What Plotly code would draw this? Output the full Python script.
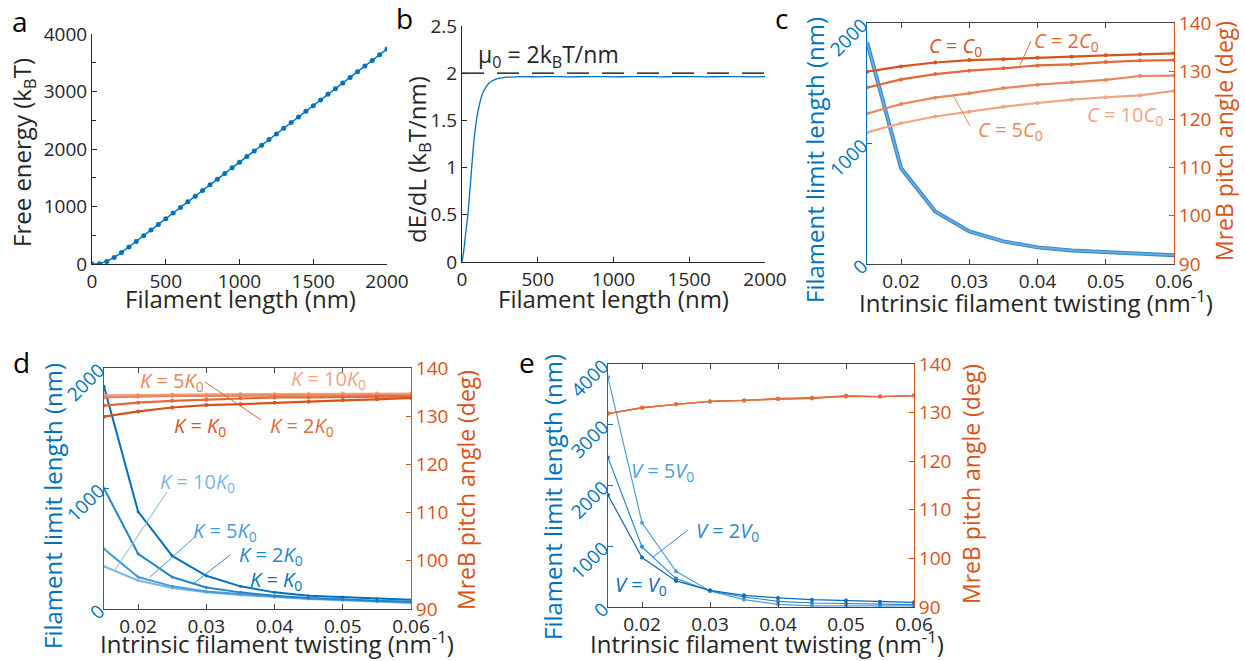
import plotly.graph_objects as go

W, H = 1245, 661
FONT = "Open Sans"
DARK = "#262626"
BLUE = "#0072BD"
ORANGE = "#D95319"

# ---------------- data ----------------
# panel a
length_a = [0, 50, 100, 150, 200, 250, 300, 350, 400, 450, 500, 550, 600, 650, 700, 750, 800,
            850, 900, 950, 1000, 1050, 1100, 1150, 1200, 1250, 1300, 1350, 1400, 1450, 1500,
            1550, 1600, 1650, 1700, 1750, 1800, 1850, 1900, 1950, 2000]
free_energy = [0, 5, 45, 115, 200, 295, 393, 492, 590, 688, 787, 885, 984, 1082, 1180, 1279,
               1377, 1475, 1574, 1672, 1770, 1869, 1967, 2065, 2164, 2262, 2360, 2459, 2557,
               2655, 2754, 2852, 2950, 3049, 3147, 3245, 3344, 3442, 3540, 3639, 3737]

# panel b
length_b = [0, 10, 20, 30, 40, 50, 60, 70, 80, 90, 100, 110, 120, 130, 140, 150, 160, 170, 180,
            190, 200, 220, 240, 260, 280, 300, 350, 400, 500, 600, 700, 800, 900, 1000, 1100,
            1200, 1300, 1400, 1500, 1600, 1700, 1800, 1900, 2000]
dEdL = [0, 0.1, 0.24, 0.38, 0.52, 0.72, 0.92, 1.12, 1.3, 1.44, 1.55, 1.63, 1.7, 1.76, 1.8,
        1.83, 1.86, 1.88, 1.9, 1.91, 1.92, 1.935, 1.945, 1.95, 1.955, 1.958, 1.962, 1.963,
        1.962, 1.964, 1.962, 1.963, 1.964, 1.962, 1.963, 1.964, 1.962, 1.963, 1.964, 1.962,
        1.963, 1.964, 1.962, 1.963]
mu0 = 2.0
mu0_x = [0, 2000]

# twisting axis for c, d, e
twist = [0.015, 0.02, 0.025, 0.03, 0.035, 0.04, 0.045, 0.05, 0.055, 0.06]
twist_ticks = [0.02, 0.03, 0.04, 0.05, 0.06]

# panel c
limit_c = [1843, 794, 436, 270, 188, 138, 113, 99, 86, 72]
angle_c = [
    [129.9, 131.0, 131.8, 132.3, 132.5, 132.8, 133.0, 133.3, 133.5, 133.7],
    [126.6, 128.3, 129.4, 130.1, 130.6, 131.2, 131.4, 131.9, 132.2, 132.3],
    [121.2, 123.2, 124.5, 125.4, 126.5, 127.2, 127.7, 128.2, 129.0, 129.1],
    [117.3, 119.2, 120.6, 121.6, 122.6, 123.4, 124.1, 124.6, 125.0, 125.9],
]

# panel d
limit_d = [
    [1848, 808, 441, 276, 188, 138, 110, 99, 83, 77],
    [1001, 458, 265, 179, 138, 110, 91, 77, 69, 61],
    [499, 265, 188, 146, 124, 105, 88, 77, 63, 55],
    [353, 237, 174, 138, 116, 97, 83, 72, 61, 50],
]
angle_d = [
    [129.9, 131.0, 131.8, 132.3, 132.5, 132.8, 133.0, 133.3, 133.5, 133.8],
    [132.2, 132.8, 133.2, 133.4, 133.7, 133.9, 133.9, 134.0, 134.1, 134.1],
    [133.9, 134.1, 134.2, 134.2, 134.3, 134.3, 134.3, 134.4, 134.4, 134.4],
    [134.3, 134.4, 134.5, 134.5, 134.6, 134.6, 134.6, 134.7, 134.7, 134.7],
]

# panel e
limit_e = [
    [1843, 814, 429, 275, 193, 149, 121, 105, 88, 77],
    [2459, 990, 468, 264, 165, 94, 66, 55, 44, 39],
    [3780, 1387, 589, 264, 121, 44, 17, 17, 17, 17],
]
angle_e = [
    [129.8, 131.0, 131.7, 132.3, 132.5, 132.8, 133.0, 133.5, 133.3, 133.5],
    [129.8, 131.0, 131.7, 132.3, 132.5, 132.9, 133.1, 133.3, 133.3, 133.5],
    [129.8, 131.0, 131.7, 132.3, 132.5, 132.8, 132.9, 133.4, 133.3, 133.5],
]

blues = ["#0072BD", "#2485CB", "#4A9BD8", "#7DB6E2"]
oranges = ["#D95319", "#E2693A", "#EA865C", "#F0A483"]
e_blues = ["#0B6DB8", "#2E86CB", "#4DA0DB"]
e_orange = "#E0713F"


def P(x, y):
    return x / W, 1 - y / H


def dom(x0, x1, y0, y1):
    return [x0 / W, x1 / W], [1 - y1 / H, 1 - y0 / H]


fig = go.Figure()

# ---- traces ----
fig.add_trace(go.Scatter(x=length_a, y=free_energy, mode="lines+markers",
                         line=dict(color=BLUE, width=1.5), marker=dict(size=5, color=BLUE),
                         xaxis="x", yaxis="y"))

fig.add_trace(go.Scatter(x=mu0_x, y=[mu0, mu0], mode="lines",
                         line=dict(color="black", width=1.2, dash="22px,13px"),
                         xaxis="x2", yaxis="y2"))
fig.add_trace(go.Scatter(x=length_b, y=dEdL, mode="lines", line=dict(color=BLUE, width=1.3),
                         line_shape="spline", xaxis="x2", yaxis="y2"))

# c
for i in reversed(range(4)):
    fig.add_trace(go.Scatter(x=twist, y=angle_c[i], mode="lines+markers",
                             line=dict(color=oranges[i], width=2.2),
                             marker=dict(size=4, color=oranges[i]),
                             xaxis="x3", yaxis="y4"))
fig.add_trace(go.Scatter(x=twist, y=limit_c, mode="lines", line=dict(color="#3A8BCB", width=4),
                         xaxis="x3", yaxis="y3"))
fig.add_trace(go.Scatter(x=twist, y=limit_c, mode="lines", line=dict(color="#6CADE0", width=1.6),
                         xaxis="x3", yaxis="y3"))

# d
for i in reversed(range(4)):
    fig.add_trace(go.Scatter(x=twist, y=angle_d[i], mode="lines+markers",
                             line=dict(color=oranges[i], width=2.2),
                             marker=dict(size=4, color=oranges[i]),
                             xaxis="x4", yaxis="y6"))
for i in reversed(range(4)):
    fig.add_trace(go.Scatter(x=twist, y=limit_d[i], mode="lines+markers",
                             line=dict(color=blues[i], width=2),
                             marker=dict(size=3, color=blues[i]),
                             xaxis="x4", yaxis="y5"))

# e
for i in range(3):
    fig.add_trace(go.Scatter(x=twist, y=angle_e[i], mode="lines+markers",
                             line=dict(color=e_orange, width=1.3),
                             marker=dict(size=4, color=e_orange),
                             xaxis="x5", yaxis="y8"))
for i in reversed(range(3)):
    fig.add_trace(go.Scatter(x=twist, y=limit_e[i], mode="lines+markers",
                             line=dict(color=e_blues[i], width=1.2),
                             marker=dict(size=4, color=e_blues[i]),
                             xaxis="x5", yaxis="y7"))


# ---- axes ----
def base_axis(color=DARK, **kw):
    d = dict(showline=True, linecolor=color, linewidth=1, ticks="inside", ticklen=5,
             tickcolor=color, showgrid=False, zeroline=False, automargin=False,
             tickfont=dict(family=FONT, size=19, color=color), fixedrange=True)
    d.update(kw)
    return d


layout = dict(width=W, height=H, margin=dict(l=0, r=0, t=0, b=0, pad=0),
              paper_bgcolor="white", plot_bgcolor="white", showlegend=False,
              font=dict(family=FONT, color=DARK), hovermode=False)

xa, ya = dom(92, 387, 34, 264)
layout["xaxis"] = base_axis(domain=xa, anchor="y", range=[0, 2000], tickvals=[0, 500, 1000, 1500, 2000])
layout["yaxis"] = base_axis(domain=ya, anchor="x", range=[0, 4000], tickvals=[0, 1000, 2000, 3000, 4000],
                            minor=dict(tickvals=[500, 1500, 2500, 3500], ticks="inside", ticklen=4, tickcolor=DARK))

xb, yb = dom(462, 765, 26, 262)
layout["xaxis2"] = base_axis(domain=xb, anchor="y2", range=[0, 2000], tickvals=[0, 500, 1000, 1500, 2000])
layout["yaxis2"] = base_axis(domain=yb, anchor="x2", range=[0, 2.5], tickvals=[0, 0.5, 1, 1.5, 2, 2.5],
                             ticktext=["0", "0.5", "1", "1.5", "2", "2.5"])


def twin(xn, yl, yr, xd, yd, left_range, left_ticks):
    layout["xaxis%s" % xn] = base_axis(domain=xd, anchor="y%s" % yl, range=[0.015, 0.06],
                                       tickvals=twist_ticks, mirror="ticks", linecolor="#444444",
                                       tickcolor="#444444")
    layout["yaxis%s" % yl] = base_axis(BLUE, domain=yd, anchor="x%s" % xn, range=left_range,
                                       tickvals=left_ticks, tickangle=-45)
    layout["yaxis%s" % yr] = base_axis(ORANGE, domain=yd, anchor="x%s" % xn, overlaying="y%s" % yl,
                                       side="right", range=[90, 140],
                                       tickvals=[90, 100, 110, 120, 130, 140])


twin(3, 3, 4, *dom(867, 1174, 23, 264), [0, 2000], [0, 1000, 2000])
twin(4, 5, 6, *dom(104, 411, 368, 609), [0, 2000], [0, 1000, 2000])
twin(5, 7, 8, *dom(608, 914, 364, 607), [0, 4000], [0, 1000, 2000, 3000, 4000])

fig.update_layout(**layout)

# ---- annotations ----
ann = []
shapes = []


def text(x, y, s, size=24, color=DARK, angle=0):
    px, py = P(x, y)
    ann.append(dict(x=px, y=py, xref="paper", yref="paper", text=s, showarrow=False,
                    textangle=angle, xanchor="center", yanchor="middle",
                    font=dict(family=FONT, size=size, color=color)))


def leader(x0, y0, x1, y1, color):
    a0, b0 = P(x0, y0)
    a1, b1 = P(x1, y1)
    shapes.append(dict(type="line", xref="paper", yref="paper", x0=a0, y0=b0, x1=a1, y1=b1,
                       line=dict(color=color, width=1)))


# panel letters
text(20, 21, "a", 28, "black")
text(404, 18, "b", 28, "black")
text(781, 18, "c", 28, "black")
text(22, 362, "d", 28, "black")
text(527, 362, "e", 28, "black")

# axis titles
text(23, 153, "Free energy (k<sub>B</sub>T)", 24, DARK, -90)
text(240, 298, "Filament length (nm)", 24)
text(418, 160, "dE/dL (k<sub>B</sub>T/nm)", 24, DARK, -90)
text(613, 298, "Filament length (nm)", 24)
text(548, 55, "μ<sub>0</sub> = 2k<sub>B</sub>T/nm", 23)

xt = "Intrinsic filament twisting (nm<sup>-1</sup>)"
text(1036, 301, xt, 24)
text(277, 642, xt, 24)
text(767, 642, xt, 24)

lt = "Filament limit length (nm)"
rt = "MreB pitch angle (deg)"
text(814, 160, lt, 24, BLUE, -90)
text(1224, 141, rt, 23, ORANGE, -90)
text(52, 506, lt, 24, BLUE, -90)
text(466, 490, rt, 23, ORANGE, -90)
text(552, 497, lt, 24, BLUE, -90)
text(971, 484, rt, 23, ORANGE, -90)

# panel c labels
text(955, 46, "<i>C</i> = <i>C</i><sub>0</sub>", 20, oranges[0])
text(1066, 42, "<i>C</i> = 2<i>C</i><sub>0</sub>", 20, oranges[1])
leader(1031, 41, 1020, 65, oranges[1])
text(1010, 130, "<i>C</i> = 5<i>C</i><sub>0</sub>", 20, oranges[2])
leader(970, 126, 953, 95, oranges[2])
text(1125, 115, "<i>C</i> = 10<i>C</i><sub>0</sub>", 20, oranges[3])

# panel d labels
text(172, 381, "<i>K</i> = 5<i>K</i><sub>0</sub>", 20, oranges[2])
text(328, 379, "<i>K</i> = 10<i>K</i><sub>0</sub>", 20, oranges[3])
text(200, 426, "<i>K</i> = <i>K</i><sub>0</sub>", 20, oranges[0])
text(302, 426, "<i>K</i> = 2<i>K</i><sub>0</sub>", 20, oranges[1])
leader(205, 382, 261, 420, oranges[1])
text(197, 482, "<i>K</i> = 10<i>K</i><sub>0</sub>", 20, blues[3])
leader(167, 492, 115, 570, blues[3])
text(225, 531, "<i>K</i> = 5<i>K</i><sub>0</sub>", 20, blues[2])
leader(195, 537, 150, 577, blues[2])
text(271, 555, "<i>K</i> = 2<i>K</i><sub>0</sub>", 20, blues[1])
leader(230, 555, 193, 584, blues[1])
text(276, 580, "<i>K</i> = <i>K</i><sub>0</sub>", 20, blues[0])

# panel e labels
text(662, 471, "<i>V</i> = 5<i>V</i><sub>0</sub>", 20, e_blues[2])
text(727, 531, "<i>V</i> = 2<i>V</i><sub>0</sub>", 20, e_blues[1])
leader(688, 530, 653, 557, e_blues[1])
text(641, 585, "<i>V</i> = <i>V</i><sub>0</sub>", 20, e_blues[0])

fig.update_layout(annotations=ann, shapes=shapes)
fig.write_html("out.html", config={"displayModeBar": False},
               post_script="document.body.style.margin='0';document.body.style.overflow='hidden';")
